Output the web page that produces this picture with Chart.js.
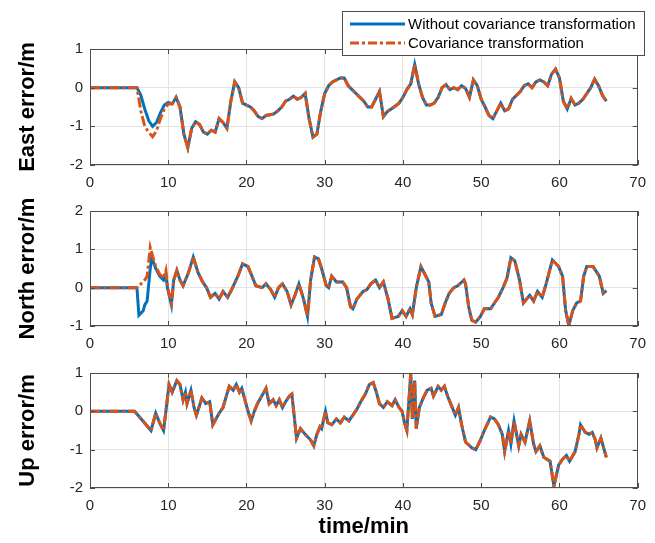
<!DOCTYPE html>
<html>
<head>
<meta charset="utf-8">
<script src="https://cdn.jsdelivr.net/npm/chart.js@4.4.1/dist/chart.umd.min.js"></script>
<style>
  body { margin: 0; background: #fff; }
  #fig { position: relative; width: 655px; height: 543px; }
  .panel { position: absolute; left: 0; width: 655px; }
</style>
</head>
<body>
<div id="fig">
  <div class="panel" style="top:0;height:192px"><canvas id="eastChart"></canvas></div>
  <div class="panel" style="top:192px;height:164px"><canvas id="northChart"></canvas></div>
  <div class="panel" style="top:356px;height:187px"><canvas id="upChart"></canvas></div>
</div>
<script>
const xTicks = [0, 10, 20, 30, 40, 50, 60, 70];
const seriesNames = ['Without covariance transformation', 'Covariance transformation'];

// East error (m), sampled every half minute
const eastTime = [0, 6,
  6.5, 7, 7.5, 8, 8.5, 9, 9.5, 10, 10.5, 11,
  11.5, 12, 12.5, 13, 13.5, 14, 14.5, 15, 15.5, 16,
  16.5, 17, 17.5, 18, 18.5, 19, 19.5, 20, 20.5, 21,
  21.5, 22, 22.5, 23, 23.5, 24, 24.5, 25, 25.5, 26,
  26.5, 27, 27.5, 28, 28.5, 29, 29.5, 30, 30.5, 31,
  31.5, 32, 32.5, 33, 33.5, 34, 34.5, 35, 35.5, 36,
  36.5, 37, 37.5, 38, 38.5, 39, 39.5, 40, 40.5, 41,
  41.5, 42, 42.5, 43, 43.5, 44, 44.5, 45, 45.5, 46,
  46.5, 47, 47.5, 48, 48.5, 49, 49.5, 50, 50.5, 51,
  51.5, 52, 52.5, 53, 53.5, 54, 54.5, 55, 55.5, 56,
  56.5, 57, 57.5, 58, 58.5, 59, 59.5, 60, 60.5, 61,
  61.5, 62, 62.5, 63, 63.5, 64, 64.5, 65, 65.5, 66];
const eastBlue = [0, 0,
  -0.2, -0.55, -0.85, -1.0, -0.9, -0.65, -0.45, -0.38, -0.42, -0.25,
  -0.5, -1.2, -1.55, -1.05, -0.88, -0.95, -1.15, -1.2, -1.1, -1.15,
  -0.8, -0.9, -1.05, -0.35, 0.15, 0.0, -0.4, -0.45, -0.5, -0.6,
  -0.75, -0.8, -0.72, -0.7, -0.68, -0.6, -0.5, -0.35, -0.3, -0.22,
  -0.3, -0.25, -0.15, -0.8, -1.28, -1.2, -0.6, -0.15, 0.05, 0.15,
  0.2, 0.25, 0.25, 0.05, -0.05, -0.15, -0.25, -0.35, -0.5, -0.5,
  -0.3, -0.1, -0.75, -0.62, -0.55, -0.48, -0.4, -0.25, -0.05, 0.1,
  0.6, 0.1, -0.25, -0.45, -0.45, -0.4, -0.25, 0.0, 0.08, -0.05,
  0.0, -0.05, 0.05, -0.02, -0.25, 0.2, 0.05, -0.3, -0.5, -0.72,
  -0.8, -0.6, -0.4, -0.6, -0.55, -0.3, -0.2, -0.1, 0.05, 0.1,
  0.0, 0.15, 0.2, 0.15, 0.05, 0.35, 0.48, 0.25, -0.35, -0.55,
  -0.28, -0.45, -0.4, -0.3, -0.15, 0.0, 0.22, 0.05, -0.2, -0.35];
const eastOrange = [0, 0,
  -0.6, -1.0, -1.15, -1.27, -1.12, -0.8, -0.55, -0.42, -0.42, -0.25,
  -0.5, -1.2, -1.55, -1.05, -0.88, -0.95, -1.15, -1.2, -1.1, -1.15,
  -0.8, -0.9, -1.05, -0.35, 0.15, 0.0, -0.4, -0.45, -0.5, -0.6,
  -0.75, -0.8, -0.72, -0.7, -0.68, -0.6, -0.5, -0.35, -0.3, -0.22,
  -0.3, -0.25, -0.15, -0.8, -1.28, -1.2, -0.6, -0.15, 0.05, 0.15,
  0.2, 0.25, 0.25, 0.05, -0.05, -0.15, -0.25, -0.35, -0.5, -0.5,
  -0.3, -0.1, -0.75, -0.62, -0.55, -0.48, -0.4, -0.25, -0.05, 0.1,
  0.6, 0.1, -0.25, -0.45, -0.45, -0.4, -0.25, 0.0, 0.08, -0.05,
  0.0, -0.05, 0.05, -0.02, -0.25, 0.2, 0.05, -0.3, -0.5, -0.72,
  -0.8, -0.6, -0.4, -0.6, -0.55, -0.3, -0.2, -0.1, 0.05, 0.1,
  0.0, 0.15, 0.2, 0.15, 0.05, 0.35, 0.48, 0.25, -0.35, -0.55,
  -0.28, -0.45, -0.4, -0.3, -0.15, 0.0, 0.22, 0.05, -0.2, -0.35];

// North error (m)
const northTime = [0, 6.0, 6.25, 6.8, 7.0, 7.3, 7.7, 7.9, 8.4, 8.9,
  9.4, 9.7, 9.9, 10.4, 10.7, 11.1, 11.5, 11.9, 12.6, 13.2,
  13.8, 14.4, 14.9, 15.4, 16.0, 16.5, 17.0, 17.6, 18.1, 18.9,
  19.5, 20.2, 20.7, 21.2, 22.0, 22.5, 23.1, 23.6, 24.1, 24.6,
  25.2, 25.7, 26.2, 26.7, 27.3, 27.8, 28.2, 28.7, 29.2, 29.6,
  30.2, 30.5, 30.9, 31.5, 32.3, 32.8, 33.3, 33.6, 34.1, 34.9,
  35.4, 35.9, 36.5, 37.0, 37.5, 38.1, 38.6, 39.4, 39.9, 40.4,
  40.9, 41.2, 41.7, 42.3, 42.8, 43.3, 43.6, 44.1, 44.9, 45.4,
  45.9, 46.5, 47.0, 47.8, 48.0, 48.4, 48.8, 49.3, 49.9, 50.4,
  51.2, 51.7, 52.2, 52.8, 53.3, 53.8, 54.3, 54.9, 55.4, 56.2,
  56.7, 57.2, 57.8, 58.3, 59.1, 59.9, 60.4, 60.8, 61.2, 61.7,
  62.2, 62.7, 63.1, 63.5, 64.3, 65.1, 65.6, 66.0];
const northBlue = [0, 0, -0.72, -0.6, -0.45, -0.35, 0.5, 0.78, 0.5, 0.3,
  0.2, 0.35, 0.0, -0.45, 0.2, 0.45, 0.2, 0.05, 0.4, 0.8,
  0.4, 0.15, 0.0, -0.25, -0.15, -0.3, -0.1, -0.25, -0.05, 0.3,
  0.62, 0.55, 0.3, 0.05, 0.0, 0.1, -0.05, -0.25, 0.0, 0.1,
  -0.1, -0.45, -0.2, 0.1, -0.3, -0.75, 0.2, 0.8, 0.75, 0.5,
  0.05, 0.0, 0.3, 0.15, 0.15, 0.0, -0.5, -0.55, -0.3, -0.1,
  -0.05, 0.1, 0.2, 0.0, 0.15, -0.3, -0.8, -0.75, -0.6, -0.75,
  -0.55, -0.7, 0.0, 0.55, 0.35, 0.15, -0.4, -0.75, -0.7, -0.4,
  -0.15, 0.0, 0.05, 0.2, 0.1, -0.5, -0.85, -0.9, -0.75, -0.55,
  -0.55, -0.4, -0.25, 0.0, 0.25, 0.78, 0.7, 0.2, -0.4, -0.2,
  -0.35, -0.1, -0.25, 0.1, 0.72, 0.55, 0.3, -0.6, -0.99, -0.6,
  -0.4, -0.35, 0.3, 0.55, 0.55, 0.3, -0.15, -0.08];
const northOrange = [0, 0, 0.05, 0.15, 0.2, 0.3, 1.05, 0.9, 0.55, 0.35,
  0.25, 0.45, 0.0, -0.4, 0.2, 0.45, 0.2, 0.05, 0.4, 0.8,
  0.4, 0.15, 0.0, -0.25, -0.15, -0.3, -0.1, -0.25, -0.05, 0.3,
  0.62, 0.55, 0.3, 0.05, 0.0, 0.1, -0.05, -0.25, 0.0, 0.1,
  -0.1, -0.45, -0.2, 0.1, -0.3, -0.75, 0.2, 0.8, 0.75, 0.5,
  0.05, 0.0, 0.3, 0.15, 0.15, 0.0, -0.5, -0.55, -0.3, -0.1,
  -0.05, 0.1, 0.2, 0.0, 0.15, -0.3, -0.8, -0.75, -0.6, -0.75,
  -0.55, -0.7, 0.0, 0.55, 0.35, 0.15, -0.4, -0.75, -0.7, -0.4,
  -0.15, 0.0, 0.05, 0.2, 0.1, -0.5, -0.85, -0.9, -0.75, -0.55,
  -0.55, -0.4, -0.25, 0.0, 0.25, 0.78, 0.7, 0.2, -0.4, -0.2,
  -0.35, -0.1, -0.25, 0.1, 0.72, 0.55, 0.3, -0.6, -0.99, -0.6,
  -0.4, -0.35, 0.3, 0.55, 0.55, 0.3, -0.15, -0.08];

// Up error (m) - both runs overlap here
const upTime = [0, 5.7, 7.8, 8.4, 8.9, 9.4, 9.7, 10.1, 10.5, 11.1,
  11.5, 11.9, 12.2, 12.4, 12.9, 13.3, 13.6, 14.0, 14.3, 14.8,
  15.3, 15.7, 16.1, 16.5, 17.0, 17.5, 17.8, 18.3, 18.7, 19.1,
  19.4, 20.2, 20.6, 21.0, 21.4, 22.1, 22.5, 22.9, 23.4, 23.8,
  24.2, 24.6, 25.0, 25.5, 25.8, 26.4, 26.9, 27.5, 28.2, 28.6,
  29.0, 29.4, 29.6, 30.1, 30.4, 30.9, 31.5, 32.0, 32.5, 33.1,
  33.6, 34.1, 34.6, 35.2, 35.7, 36.2, 36.6, 37.0, 37.5, 38.0,
  38.6, 39.0, 39.5, 39.9, 40.2, 40.5, 41.0, 41.2, 41.5, 41.7,
  42.1, 42.6, 43.1, 43.6, 43.9, 44.5, 44.9, 45.3, 45.7, 46.2,
  46.7, 47.1, 47.5, 48.0, 48.8, 49.3, 49.9, 50.4, 51.2, 51.7,
  52.2, 52.7, 53.0, 53.5, 53.8, 54.2, 54.8, 55.1, 55.6, 56.2,
  56.7, 57.0, 57.5, 58.0, 58.8, 59.3, 59.9, 60.4, 60.9, 61.3,
  62.0, 62.5, 62.7, 63.3, 63.8, 64.2, 64.6, 64.8, 65.3, 66.0];
const upError = [0, 0, -0.5, -0.05, -0.3, -0.5, 0.0, 0.7, 0.5, 0.8,
  0.7, 0.3, 0.5, 0.2, 0.55, 0.1, -0.1, 0.15, 0.35, 0.2,
  0.25, -0.35, -0.2, -0.05, 0.1, 0.45, 0.65, 0.55, 0.7, 0.5,
  0.6, 0.0, -0.25, 0.0, 0.2, 0.45, 0.6, 0.2, 0.3, 0.15,
  0.3, 0.1, 0.25, 0.4, 0.45, -0.7, -0.45, -0.6, -0.75, -0.9,
  -0.6, -0.4, -0.45, 0.0, -0.3, -0.35, -0.2, -0.3, -0.15, -0.25,
  -0.1, 0.05, 0.25, 0.45, 0.7, 0.75, 0.5, 0.2, 0.1, 0.25,
  0.15, 0.3, 0.1, 0.0, -0.3, -0.5, 1.0, -0.2, 0.8, -0.45,
  0.1, 0.35, 0.55, 0.6, 0.4, 0.65, 0.55, 0.65, 0.4, 0.15,
  -0.1, 0.1, -0.35, -0.8, -0.95, -1.0, -0.75, -0.5, -0.15, -0.2,
  -0.35, -0.6, -1.05, -0.5, -0.85, -0.25, -0.9, -0.6, -0.8, -0.25,
  -0.85, -1.05, -0.9, -1.2, -1.3, -1.95, -1.4, -1.25, -1.15, -1.3,
  -1.05, -0.6, -0.35, -0.55, -0.6, -0.55, -0.75, -0.95, -0.7, -1.2];

const BLUE = '#0072BD';
const ORANGE = '#D95319';
const FONT = "'Liberation Sans', Arial, Helvetica, sans-serif";

function toPoints(time, values) {
    return time.map((t, i) => ({ x: t, y: values[i] }));
}

// MATLAB style box with inward ticks
const boxPlugin = {
    id: 'matlabBox',
    afterDraw(chart) {
        const { ctx, chartArea: a, scales: { x, y } } = chart;
        ctx.save();
        ctx.strokeStyle = '#4d4d4d';
        ctx.lineWidth = 1;
        ctx.beginPath();
        x.ticks.forEach(t => {
            const px = Math.round(x.getPixelForValue(t.value)) + 0.5;
            ctx.moveTo(px, a.bottom); ctx.lineTo(px, a.bottom - 5);
            ctx.moveTo(px, a.top); ctx.lineTo(px, a.top + 5);
        });
        y.ticks.forEach(t => {
            const py = Math.round(y.getPixelForValue(t.value)) + 0.5;
            ctx.moveTo(a.left, py); ctx.lineTo(a.left + 5, py);
            ctx.moveTo(a.right, py); ctx.lineTo(a.right - 5, py);
        });
        ctx.stroke();
        ctx.strokeRect(Math.round(a.left) + 0.5, Math.round(a.top) + 0.5,
            Math.round(a.right - a.left) - 1, Math.round(a.bottom - a.top) - 1);
        ctx.restore();
    }
};

// legend box drawn over the top of the first panel
const legendPlugin = {
    id: 'boxLegend',
    afterDraw(chart) {
        const ctx = chart.ctx;
        ctx.save();
        ctx.fillStyle = '#fff';
        ctx.fillRect(342, 11, 303, 44);
        ctx.strokeStyle = '#4d4d4d';
        ctx.lineWidth = 1;
        ctx.strokeRect(342.5, 11.5, 302, 44);
        const rows = [
            { y: 24, color: BLUE, dash: [] },
            { y: 43, color: ORANGE, dash: [9, 3, 3, 3] }
        ];
        ctx.font = '15px ' + FONT;
        ctx.textBaseline = 'middle';
        rows.forEach((r, i) => {
            ctx.strokeStyle = r.color;
            ctx.lineWidth = 3;
            ctx.setLineDash(r.dash);
            ctx.beginPath();
            ctx.moveTo(350, r.y);
            ctx.lineTo(405, r.y);
            ctx.stroke();
            ctx.setLineDash([]);
            ctx.fillStyle = '#000';
            ctx.fillText(seriesNames[i], 408, r.y + 1);
        });
        ctx.restore();
    }
};

function makePanel(id, time, blue, orange, yMin, yMax, yTitle, padTop, xHeight, xTitle, withLegend) {
    const ctx = document.getElementById(id).getContext('2d');
    return new Chart(ctx, {
        type: 'line',
        data: {
            datasets: [{
                label: seriesNames[0],
                data: toPoints(time, blue),
                borderColor: BLUE,
                borderWidth: 3,
                pointRadius: 0,
                order: 1
            }, {
                label: seriesNames[1],
                data: toPoints(time, orange),
                borderColor: ORANGE,
                borderWidth: 3,
                borderDash: [10, 3, 3, 3],
                pointRadius: 0,
                order: 0
            }]
        },
        options: {
            responsive: true,
            maintainAspectRatio: false,
            animation: false,
            layout: { padding: { top: padTop, right: 10, left: 0, bottom: 0 } },
            plugins: { legend: { display: false }, tooltip: { enabled: false } },
            scales: {
                x: {
                    type: 'linear',
                    min: 0,
                    max: 70,
                    afterBuildTicks: s => { s.ticks = xTicks.map(v => ({ value: v })); },
                    afterFit: s => { s.height = xHeight; },
                    grid: { color: '#e3e3e3', drawTicks: false },
                    border: { display: false },
                    ticks: { color: '#262626', padding: 9, font: { family: FONT, size: 15 } },
                    title: {
                        display: !!xTitle,
                        text: xTitle,
                        color: '#000',
                        padding: { top: 0, bottom: 3 },
                        font: { family: FONT, size: 22, weight: 'bold' }
                    }
                },
                y: {
                    min: yMin,
                    max: yMax,
                    ticks: { stepSize: 1, color: '#262626', padding: 7, font: { family: FONT, size: 15 } },
                    afterFit: s => { s.width = 90; },
                    grid: { color: '#e3e3e3', drawTicks: false },
                    border: { display: false },
                    title: {
                        display: true,
                        text: yTitle,
                        color: '#000',
                        padding: { top: 15, bottom: 0 },
                        font: { family: FONT, size: 22, weight: 'bold' }
                    }
                }
            }
        },
        plugins: withLegend ? [boxPlugin, legendPlugin] : [boxPlugin]
    });
}

makePanel('eastChart', eastTime, eastBlue, eastOrange, -2, 1, 'East error/m', 49, 27, '', true);
makePanel('northChart', northTime, northBlue, northOrange, -1, 2, 'North error/m', 19, 30, '', false);
makePanel('upChart', upTime, upError, upError, -2, 1, 'Up error/m', 17, 55, 'time/min', false);
</script>
</body>
</html>
